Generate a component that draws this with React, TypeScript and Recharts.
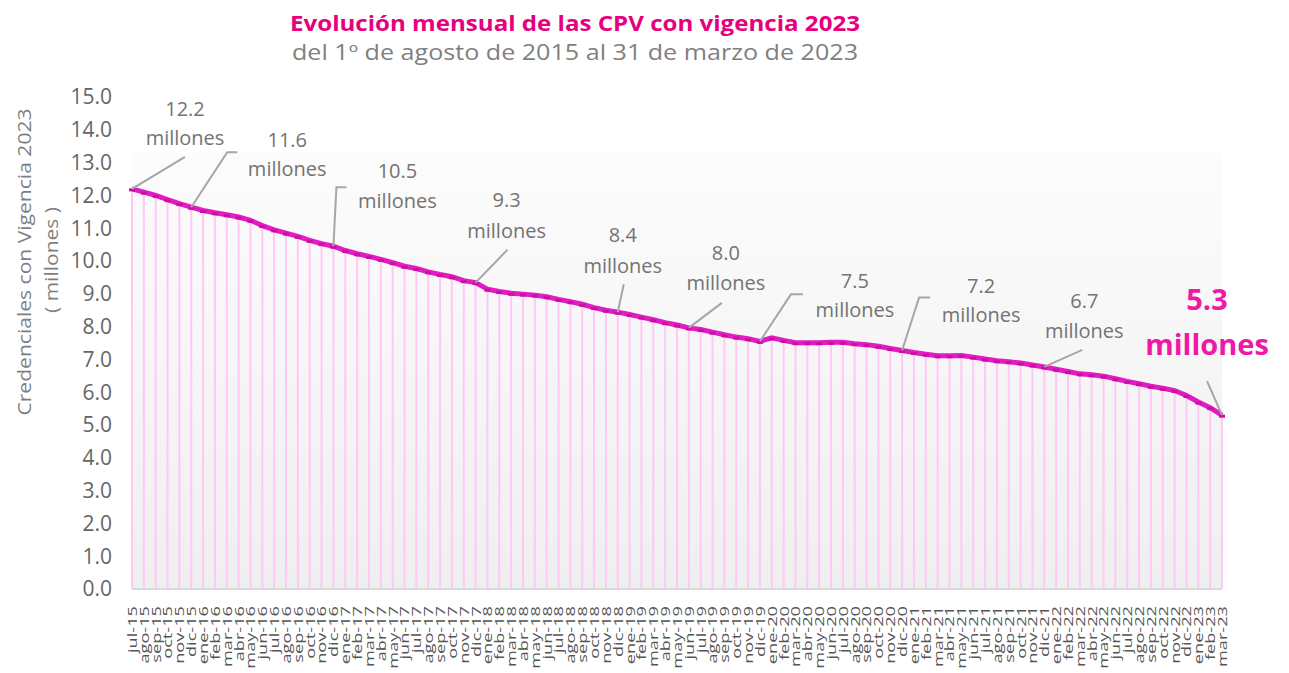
import React from "react";
import { ComposedChart, Line, XAxis, YAxis, CartesianGrid, ErrorBar } from "recharts";

const meses = [
  "jul-15", "ago-15", "sep-15", "oct-15", "nov-15", "dic-15",
  "ene-16", "feb-16", "mar-16", "abr-16", "may-16", "jun-16", "jul-16", "ago-16", "sep-16", "oct-16", "nov-16", "dic-16",
  "ene-17", "feb-17", "mar-17", "abr-17", "may-17", "jun-17", "jul-17", "ago-17", "sep-17", "oct-17", "nov-17", "dic-17",
  "ene-18", "feb-18", "mar-18", "abr-18", "may-18", "jun-18", "jul-18", "ago-18", "sep-18", "oct-18", "nov-18", "dic-18",
  "ene-19", "feb-19", "mar-19", "abr-19", "may-19", "jun-19", "jul-19", "ago-19", "sep-19", "oct-19", "nov-19", "dic-19",
  "ene-20", "feb-20", "mar-20", "abr-20", "may-20", "jun-20", "jul-20", "ago-20", "sep-20", "oct-20", "nov-20", "dic-20",
  "ene-21", "feb-21", "mar-21", "abr-21", "may-21", "jun-21", "jul-21", "ago-21", "sep-21", "oct-21", "nov-21", "dic-21",
  "ene-22", "feb-22", "mar-22", "abr-22", "may-22", "jun-22", "jul-22", "ago-22", "sep-22", "oct-22", "nov-22", "dic-22",
  "ene-23", "feb-23", "mar-23",
];

const credenciales = [
  12.2, 12.1, 12.0, 11.87, 11.75, 11.64,
  11.54, 11.47, 11.41, 11.34, 11.24, 11.08, 10.95, 10.85, 10.75, 10.63, 10.53, 10.45,
  10.32, 10.22, 10.14, 10.05, 9.95, 9.84, 9.77, 9.67, 9.59, 9.52, 9.4, 9.34,
  9.14, 9.07, 9.02, 8.99, 8.96, 8.91, 8.83, 8.76, 8.68, 8.58, 8.5, 8.44,
  8.37, 8.29, 8.21, 8.12, 8.05, 7.96, 7.91, 7.83, 7.75, 7.68, 7.63, 7.55,
  7.66, 7.58, 7.51, 7.51, 7.51, 7.52, 7.52, 7.48, 7.45, 7.4, 7.33, 7.27,
  7.21, 7.16, 7.11, 7.11, 7.12, 7.07, 7.01, 6.96, 6.93, 6.89, 6.83, 6.77,
  6.7, 6.63, 6.56, 6.53, 6.49, 6.41, 6.33, 6.26, 6.18, 6.12, 6.05, 5.9,
  5.7, 5.53, 5.3,
];

const yTicks = [0, 1, 2, 3, 4, 5, 6, 7, 8, 9, 10, 11, 12, 13, 14, 15];

const annotMes = ["jul-15", "dic-15", "dic-16", "dic-17", "dic-18", "jun-19", "dic-19", "dic-20", "dic-21", "mar-23"];
const annotTexto = ["12.2", "11.6", "10.5", "9.3", "8.4", "8.0", "7.5", "7.2", "6.7", "5.3"];
const unidad = "millones";

const data = meses.map((m, i) => ({ mes: m, v: credenciales[i], drop: [credenciales[i], 0] }));

// styling: leader line paths and text offsets relative to the data point
const annotStyle: { path: number[][]; tx: number; ty1: number; ty2: number; big?: boolean }[] = [
  { path: [[0, 0], [53, -32]], tx: 53, ty1: -80, ty2: -51 },
  { path: [[0, 0], [36, -55], [46, -55]], tx: 96, ty1: -68, ty2: -39 },
  { path: [[0, 0], [3, -59], [13, -59]], tx: 64, ty1: -76, ty2: -46 },
  { path: [[0, 0], [32, -33]], tx: 31, ty1: -83, ty2: -52 },
  { path: [[0, 0], [6, -28]], tx: 5, ty1: -78, ty2: -47 },
  { path: [[0, 0], [33, -25]], tx: 37, ty1: -75, ty2: -45 },
  { path: [[0, 0], [31, -47], [43, -47]], tx: 95, ty1: -61, ty2: -32 },
  { path: [[0, 0], [17, -53], [28, -53]], tx: 79, ty1: -65, ty2: -36 },
  { path: [[0, 0], [38, -17]], tx: 40, ty1: -66, ty2: -36 },
  { path: [[0, 0], [-15, -34]], tx: -15, ty1: -117, ty2: -72, big: true },
];

const FONT = "'Open Sans', sans-serif";
const LINE_COLOR = "#E21CC4";
const DROP_COLOR = "#FFC8F6";

const renderDot = (p: any) => {
  const { cx, cy, index, payload } = p;
  const k = annotMes.indexOf(payload?.mes);
  const marker = <rect x={cx - 3} y={cy - 0.5} width={6} height={3} fill="#C9119F" />;
  if (k < 0) return <g key={`d${index}`}>{marker}</g>;
  const s = annotStyle[k];
  const pts = s.path.map(([dx, dy]) => `${cx + dx},${cy + dy}`).join(" ");
  const color = s.big ? "#EE1AA6" : "#737373";
  const fs = s.big ? 29 : 20;
  return (
    <g key={`d${index}`}>
      {marker}
      <polyline points={pts} fill="none" stroke="#A6A6A6" strokeWidth={2} />
      <text x={cx + s.tx} y={cy + s.ty1} textAnchor="middle" dominantBaseline="central" fill={color}
        fontSize={fs} fontWeight={s.big ? 700 : 400} fontFamily={FONT}>{annotTexto[k]}</text>
      <text x={cx + s.tx} y={cy + s.ty2} textAnchor="middle" dominantBaseline="central" fill={color}
        fontSize={fs} fontWeight={s.big ? 700 : 400} fontFamily={FONT}>{unidad}</text>
    </g>
  );
};

const XTick = (props: any) => {
  const { x, y, payload } = props;
  return (
    <text x={0} y={0} transform={`translate(${x}, ${y}) rotate(-90) scale(1.4, 1)`} textAnchor="end"
      dominantBaseline="central" fill="#555555" fontSize={13} fontFamily={FONT}>{payload.value}</text>
  );
};

export default function App() {
  return (
    <div style={{ position: "absolute", left: 0, top: 0, width: 1289, height: 673, overflow: "hidden", background: "#fff" }}>
      <div style={{ position: "absolute", left: 0, top: 0 }}>
        <ComposedChart width={1289} height={700} data={data} margin={{ top: 97, right: 67, bottom: 0, left: 0 }}>
          <defs>
            <linearGradient id="bgGrad" x1="0" y1="0" x2="0" y2="1">
              <stop offset="0" stopColor="#FFFFFF" />
              <stop offset="0.113" stopColor="#FFFFFF" />
              <stop offset="0.114" stopColor="#FCFCFC" />
              <stop offset="1" stopColor="#EFEFEF" />
            </linearGradient>
          </defs>
          <CartesianGrid fill="url(#bgGrad)" horizontal={false} vertical={false} stroke="none" />
          <XAxis dataKey="mes" scale="point" padding={{ left: 0, right: 0 }} interval={0} height={111}
            axisLine={{ stroke: "#D9D9D9", strokeWidth: 2 }} tickLine={false} tickSize={0} tickMargin={17}
            tick={<XTick />} />
          <YAxis domain={[0, 15]} ticks={yTicks} width={132} axisLine={false} tickLine={false} tickSize={0}
            tickMargin={20} tickFormatter={(v: number) => v.toFixed(1)}
            tick={{ fill: "#666666", fontSize: 21, fontFamily: FONT }} />
          <Line dataKey="v" stroke="none" dot={false} activeDot={false} isAnimationActive={false} legendType="none">
            <ErrorBar dataKey="drop" width={0} stroke={DROP_COLOR} strokeWidth={2} direction="y" isAnimationActive={false} />
          </Line>
          <Line dataKey="v" stroke={LINE_COLOR} strokeWidth={5} type="linear" dot={renderDot} activeDot={false}
            isAnimationActive={false} />
        </ComposedChart>
      </div>
      <svg width={1289} height={673} style={{ position: "absolute", left: 0, top: 0, pointerEvents: "none" }}>
        <text x={575} y={22} textAnchor="middle" dominantBaseline="central" fill="#E6007E" fontSize={22}
          fontWeight={700} fontFamily={FONT} textLength={570} lengthAdjust="spacingAndGlyphs">Evolución mensual de las CPV con vigencia 2023</text>
        <text x={575} y={52} textAnchor="middle" dominantBaseline="central" fill="#808080" fontSize={21}
          fontFamily={FONT} textLength={566} lengthAdjust="spacingAndGlyphs">del 1º de agosto de 2015 al 31 de marzo de 2023</text>
        <text transform="rotate(-90, 24, 262)" x={24} y={262} textAnchor="middle" dominantBaseline="central"
          fill="#7F7F7F" fontSize={19} fontFamily={FONT} textLength={307} lengthAdjust="spacingAndGlyphs">Credenciales con Vigencia 2023</text>
        <text transform="rotate(-90, 51, 260)" x={51} y={260} textAnchor="middle" dominantBaseline="central"
          fill="#7F7F7F" fontSize={19} fontFamily={FONT} textLength={106} lengthAdjust="spacingAndGlyphs">( millones )</text>
      </svg>
    </div>
  );
}
